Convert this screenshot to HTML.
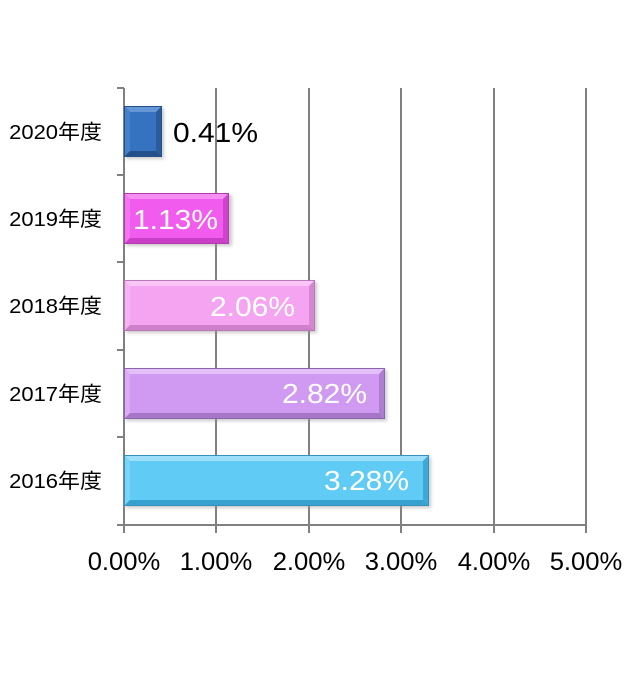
<!DOCTYPE html>
<html>
<head>
<meta charset="utf-8">
<style>
html,body{margin:0;padding:0;background:#fff;}
svg{display:block;}
text{font-family:"Liberation Sans","Noto Sans CJK JP",sans-serif;}
</style>
</head>
<body>
<svg width="632" height="678" viewBox="0 0 632 678" xmlns="http://www.w3.org/2000/svg">
<defs>
<filter id="sh" x="-10%" y="-20%" width="130%" height="150%">
<feGaussianBlur stdDeviation="1.5"/>
</filter>
</defs>
<rect width="632" height="678" fill="#fff"/>
<!-- gridlines -->
<g stroke="#808080" stroke-width="2">
<line x1="216" y1="88" x2="216" y2="533"/>
<line x1="309" y1="88" x2="309" y2="533"/>
<line x1="401" y1="88" x2="401" y2="533"/>
<line x1="494" y1="88" x2="494" y2="533"/>
<line x1="586" y1="88" x2="586" y2="533"/>
<line x1="124" y1="88" x2="124" y2="533"/>
<line x1="117" y1="525" x2="587" y2="525"/>
<line x1="117" y1="88" x2="124" y2="88"/>
<line x1="117" y1="175" x2="124" y2="175"/>
<line x1="117" y1="262" x2="124" y2="262"/>
<line x1="117" y1="350" x2="124" y2="350"/>
<line x1="117" y1="437" x2="124" y2="437"/>
</g>

<!-- 2020 -->
<g>
<rect x="126" y="108" width="38" height="51" fill="#999" opacity="0.5" filter="url(#sh)"/>
<rect x="124" y="106" width="38" height="51" fill="#3572bf"/>
<polygon points="124,106 162,106 156,112 130,112" fill="#6597d6"/>
<polygon points="124,106 130,112 130,151 124,157" fill="#4580cb"/>
<polygon points="162,106 162,157 156,151 156,112" fill="#2a5c9c"/>
<polygon points="124,157 162,157 156,151 130,151" fill="#234f8a"/>
<rect x="124.5" y="106.5" width="37" height="50" fill="none" stroke="#24508a" stroke-width="1"/>
</g>
<!-- 2019 -->
<g>
<rect x="126" y="195" width="106" height="51" fill="#999" opacity="0.5" filter="url(#sh)"/>
<rect x="124" y="193" width="105" height="51" fill="#f15cee"/>
<polygon points="124,193 229,193 223,199 130,199" fill="#f68ff4"/>
<polygon points="124,193 130,199 130,238 124,244" fill="#f375f1"/>
<polygon points="229,193 229,244 223,238 223,199" fill="#cf44cc"/>
<polygon points="124,244 229,244 223,238 130,238" fill="#c93fc6"/>
<rect x="124.5" y="193.5" width="104" height="50" fill="none" stroke="#b53ab2" stroke-width="1"/>
</g>
<!-- 2018 -->
<g>
<rect x="126" y="282" width="191" height="51" fill="#999" opacity="0.5" filter="url(#sh)"/>
<rect x="124" y="280" width="191" height="51" fill="#f5a4f1"/>
<polygon points="124,280 315,280 309,286 130,286" fill="#f9c6f7"/>
<polygon points="124,280 130,286 130,325 124,331" fill="#f7b3f4"/>
<polygon points="315,280 315,331 309,325 309,286" fill="#d587d1"/>
<polygon points="124,331 315,331 309,325 130,325" fill="#cf80cb"/>
<rect x="124.5" y="280.5" width="190" height="50" fill="none" stroke="#b87ab4" stroke-width="1"/>
</g>
<!-- 2017 -->
<g>
<rect x="126" y="370" width="261" height="51" fill="#999" opacity="0.5" filter="url(#sh)"/>
<rect x="124" y="368" width="261" height="51" fill="#d09af2"/>
<polygon points="124,368 385,368 379,374 130,374" fill="#e3c0f8"/>
<polygon points="124,368 130,374 130,413 124,419" fill="#d9acf5"/>
<polygon points="385,368 385,419 379,413 379,374" fill="#ae7ed0"/>
<polygon points="124,419 385,419 379,413 130,413" fill="#a677c8"/>
<rect x="124.5" y="368.5" width="260" height="50" fill="none" stroke="#8e64ad" stroke-width="1"/>
</g>
<!-- 2016 -->
<g>
<rect x="126" y="457" width="305" height="51" fill="#999" opacity="0.5" filter="url(#sh)"/>
<rect x="124" y="455" width="305" height="51" fill="#60cbf5"/>
<polygon points="124,455 429,455 423,461 130,461" fill="#9ddffa"/>
<polygon points="124,455 130,461 130,500 124,506" fill="#7ad4f7"/>
<polygon points="429,455 429,506 423,500 423,461" fill="#3ea8d6"/>
<polygon points="124,506 429,506 423,500 130,500" fill="#38a0cf"/>
<rect x="124.5" y="455.5" width="304" height="50" fill="none" stroke="#3592bd" stroke-width="1"/>
</g>

<!-- data labels -->
<g font-size="25">
<text transform="translate(173,142) scale(1.2,1.12)" fill="#000">0.41%</text>
<text transform="translate(218,229) scale(1.2,1.12)" fill="#fff" text-anchor="end">1.13%</text>
<text transform="translate(295,316) scale(1.2,1.12)" fill="#fff" text-anchor="end">2.06%</text>
<text transform="translate(367,403) scale(1.2,1.12)" fill="#fff" text-anchor="end">2.82%</text>
<text transform="translate(409,490) scale(1.2,1.12)" fill="#fff" text-anchor="end">3.28%</text>
</g>

<!-- category labels -->
<g font-size="22" fill="#000" text-anchor="end">
<text transform="translate(102,139) scale(1,0.92)">2020年度</text>
<text transform="translate(102,226) scale(1,0.92)">2019年度</text>
<text transform="translate(102,313) scale(1,0.92)">2018年度</text>
<text transform="translate(102,401) scale(1,0.92)">2017年度</text>
<text transform="translate(102,488) scale(1,0.92)">2016年度</text>
</g>

<!-- x labels -->
<g font-size="21" fill="#000" text-anchor="middle">
<text transform="translate(124,570) scale(1.22,1.2)">0.00%</text>
<text transform="translate(216,570) scale(1.22,1.2)">1.00%</text>
<text transform="translate(309,570) scale(1.22,1.2)">2.00%</text>
<text transform="translate(401,570) scale(1.22,1.2)">3.00%</text>
<text transform="translate(494,570) scale(1.22,1.2)">4.00%</text>
<text transform="translate(586,570) scale(1.22,1.2)">5.00%</text>
</g>
</svg>
</body>
</html>
